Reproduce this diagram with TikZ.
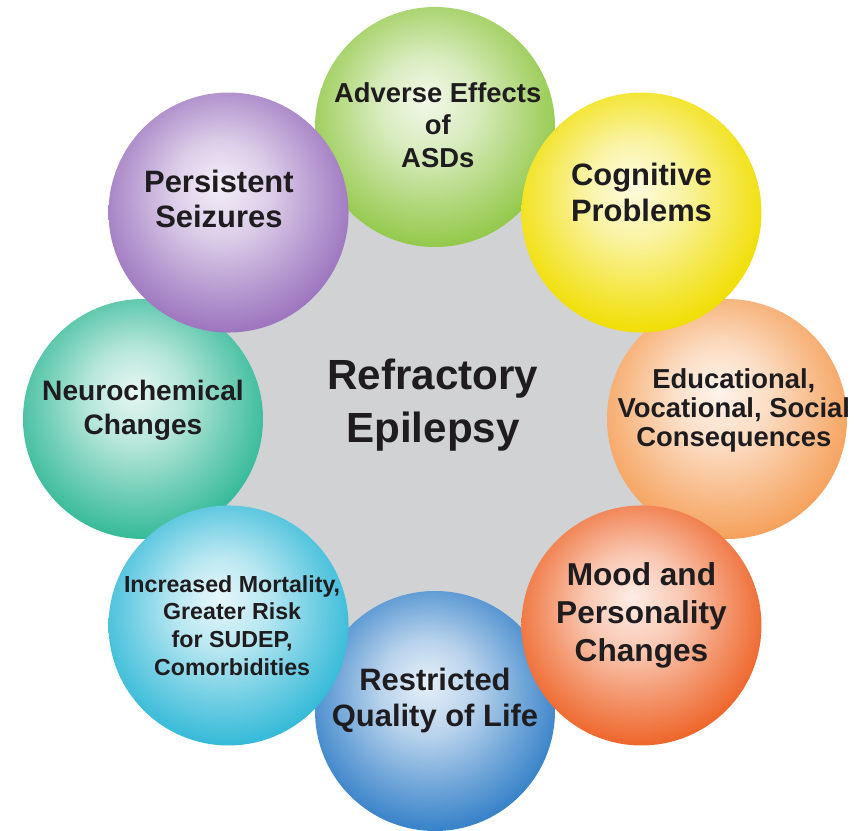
\documentclass[tikz,border=0pt]{standalone}
\usepackage{fontspec}
\setmainfont{Liberation Sans}
\usetikzlibrary{positioning}
\definecolor{hubGray}{RGB}{209,210,212}
\definecolor{inkDark}{RGB}{30,28,30}
\definecolor{orbGreen}{RGB}{146,200,72}
\definecolor{orbYellow}{RGB}{240,222,0}
\definecolor{orbPeach}{RGB}{245,160,90}
\definecolor{orbOrange}{RGB}{238,100,40}
\definecolor{orbBlue}{RGB}{52,128,200}
\definecolor{orbCyan}{RGB}{50,185,215}
\definecolor{orbTeal}{RGB}{50,185,150}
\definecolor{orbPurple}{RGB}{155,115,190}
% sphere look: light spot a little above the middle
\colorlet{orbcolor}{white}
\pgfdeclareradialshading[orbcolor]{orb}{\pgfpoint{-2bp}{6bp}}{%
  color(0bp)=(orbcolor!12!white);
  color(10bp)=(orbcolor!35!white);
  color(20bp)=(orbcolor!72!white);
  color(28bp)=(orbcolor);
  color(50bp)=(orbcolor)}

\begin{document}
\begin{tikzpicture}[
        orb/.style={circle, minimum size=6cm, inner sep=0pt, outer sep=0pt, shade, shading=orb, /utils/exec={\colorlet{orbcolor}{#1}}},
        tag/.style 2 args={align=center, text=inkDark, inner sep=0pt, font=\bfseries\fontsize{#1}{#2}\selectfont}
    ]
        \useasboundingbox (-10.875,-10.3) rectangle (10.475,10.475);

        % Hub
        \node[circle, fill=hubGray, minimum size=13.5cm] (hub) at (0,0) {};

        % Ring of consequences
        \node[orb=orbGreen] (ased) at (90:7.3) {};
        \node[orb=orbBlue] (qol) at (270:7.3) {};
        \node[orb=orbPeach] (edu) at (0:7.3) {};
        \node[orb=orbTeal] (neuro) at (180:7.3) {};
        \node[orb=orbYellow] (cog) at (45:7.3) {};
        \node[orb=orbOrange] (mood) at (-45:7.3) {};
        \node[orb=orbCyan] (mort) at (225:7.3) {};
        \node[orb=orbPurple] (seiz) at (135:7.3) {};

        % Labels
        \node[tag={30}{38}] (hub-t) at ([shift={(-0.05,0.35)}]hub.center) {Refractory\\Epilepsy};
        \node[tag={19.5}{23}] (ased-t) at ([shift={(0.07,0.05)}]ased.center) {Adverse Effects\\of\\ASDs};
        \node[tag={22}{26}] (cog-t) at ([shift={(0,0.5)}]cog.center) {Cognitive\\Problems};
        \node[tag={19.5}{20.5}] (edu-t) at ([shift={(0.17,0.22)}]edu.center) {Educational,\\Vocational, Social\\Consequences};
        \node[tag={22.5}{27}] (mood-t) at ([shift={(0,0.26)}]mood.center) {Mood and\\Personality\\Changes};
        \node[tag={22}{25.5}] (qol-t) at ([shift={(0,0.27)}]qol.center) {Restricted\\Quality of Life};
        \node[tag={16.5}{19.7}] (mort-t) at ([shift={(0.09,0)}]mort.center) {Increased Mortality,\\Greater Risk\\for SUDEP,\\Comorbidities};
        \node[tag={20}{24}] (neuro-t) at ([shift={(0,0.22)}]neuro.center) {Neurochemical\\Changes};
        \node[tag={22}{25}] (seiz-t) at ([shift={(-0.24,0.34)}]seiz.center) {Persistent\\Seizures};
    \end{tikzpicture}
\end{document}
